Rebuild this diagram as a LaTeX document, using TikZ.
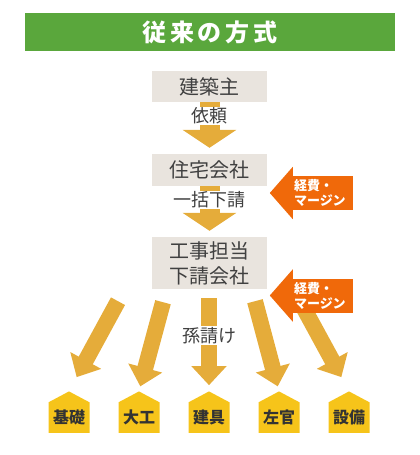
\documentclass[tikz,border=0pt]{standalone}
\usepackage{fontspec}
\setmainfont{Noto Sans CJK JP}
\newfontfamily\titlefont[LetterSpace=15]{Noto Sans CJK JP}
\usetikzlibrary{arrows.meta, positioning, calc, shapes.symbols}
\definecolor{titlegreen}{RGB}{90,167,60}
\definecolor{boxgray}{RGB}{233,228,222}
\definecolor{textgray}{RGB}{64,64,64}
\definecolor{arrowgold}{RGB}{229,172,58}
\definecolor{feeorange}{RGB}{240,105,10}
\definecolor{housegold}{RGB}{246,196,26}

\tikzset{
  party/.style={fill=boxgray, text=textgray, minimum width=115pt, inner sep=0pt, align=center, font=\fontsize{20}{25}\selectfont},
  flow/.style={draw=arrowgold, line width=20pt, -{Triangle[width=53pt,length=18pt]}, shorten >=6pt},
  fan/.style={draw=arrowgold, line width=16pt, -{Triangle[width=34pt,length=19pt]}},
  steplabel/.style={fill=white, text=textgray, inner sep=1pt, font=\fontsize{18}{20}\selectfont},
  trade/.style={signal, signal to=north, signal pointer angle=124, fill=housegold, text=black!80, minimum width=41pt, minimum height=39pt, inner sep=0pt, anchor=south, font=\bfseries\fontsize{16}{16}\selectfont},
  fee/.style={fill=feeorange, text=white, minimum width=60pt, minimum height=34pt, inner sep=0pt, text width=58pt, align=left, font=\bfseries\fontsize{13}{15}\selectfont},
}

\begin{document}
\begin{tikzpicture}[x=1pt, y=-1pt]
  \useasboundingbox (0,0) rectangle (420,455);

  % title bar
  \node[fill=titlegreen, minimum width=370pt, minimum height=38pt, text=white, font=\titlefont\bfseries\fontsize{24}{24}\selectfont] (title) at (210,32) {従来の方式};

  % parties
  \node[party, minimum height=31pt] (client) at (209.5,86.5) {建築主};
  \node[party, minimum height=32pt] (firm) at (209.5,170) {住宅会社};
  \node[party, minimum height=52pt] (sub) at (209.5,263) {工事担当\\下請会社};

  \draw[flow] (client) -- node[steplabel, pos=0.27] {依頼} (firm);
  \draw[flow] (firm) -- node[steplabel, pos=0.27] {一括下請} (sub);

  % trades
  \node[trade] (kiso) at (69,433) {基礎};
  \node[trade] (daiku) at (139,433) {大工};
  \node[trade] (tategu) at (209,433) {建具};
  \node[trade] (sakan) at (279,433) {左官};
  \node[trade] (setsubi) at (349,433) {設備};

  \coordinate (s1) at ([xshift=-91.5pt, yshift=-12pt]sub.south);
  \coordinate (s2) at ([xshift=-46.5pt, yshift=-13pt]sub.south);
  \coordinate (s3) at ([xshift=-0.5pt, yshift=-9pt]sub.south);
  \coordinate (s4) at ([xshift=45.5pt, yshift=-12pt]sub.south);
  \coordinate (s5) at ([xshift=90.5pt, yshift=-12pt]sub.south);

  \draw[fan, shorten >=16pt] (s1) -- (kiso.north);
  \draw[fan, shorten >=5pt] (s2) -- (daiku.north);
  \draw[fan, shorten >=6pt] (s3) -- node[steplabel, pos=0.4] {孫請け} (tategu.north);
  \draw[fan, shorten >=5pt] (s4) -- (sakan.north);
  \draw[fan, shorten >=16pt] (s5) -- (setsubi.north);

  % overhead
  \node[fee] (fee1) at (323,193) {経費・\\マージン};
  \fill[feeorange] ([yshift=9pt]fee1.north west) -- ([xshift=-23pt]fee1.west) -- ([yshift=-9pt]fee1.south west) -- cycle;
  \node[fee] (fee2) at (323,295.5) {経費・\\マージン};
  \fill[feeorange] ([yshift=9pt]fee2.north west) -- ([xshift=-23pt]fee2.west) -- ([yshift=-9pt]fee2.south west) -- cycle;
\end{tikzpicture}
\end{document}
